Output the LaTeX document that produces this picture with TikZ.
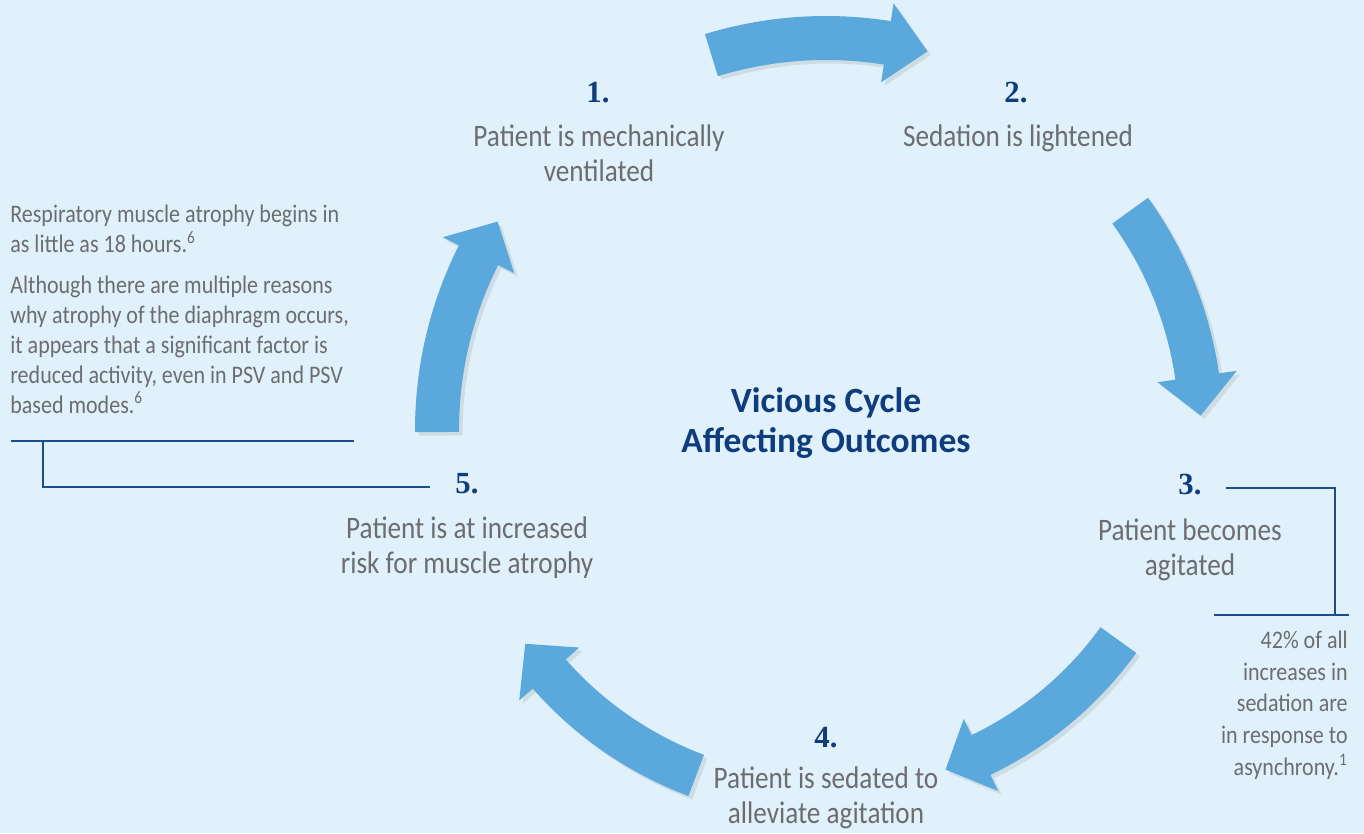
\documentclass[tikz,border=0pt]{standalone}
\usepackage{fontspec}
\setmainfont{Carlito}
\newfontfamily\narrowfont{Carlito}[FakeStretch=0.87]
\newfontfamily\numfont{Liberation Serif}
\usetikzlibrary{calc,shadows}

\definecolor{bgblue}{HTML}{E0F1FB}
\definecolor{arrowblue}{HTML}{5BA8DC}
\definecolor{navy}{HTML}{0F3C7C}
\definecolor{textgray}{HTML}{6B6D71}
\definecolor{rulenavy}{HTML}{1F4E86}

% bent block arrow round the centre: radius, tail angle, head angle, tip angle
\newcommand{\cyclearrow}[4]{%
  \fill[bentarrow] ({#2}:{#1+22}) arc[start angle={#2}, end angle={#3}, radius={#1+22}]
    -- ({#3}:{#1+40}) -- ({#4}:{#1}) -- ({#3}:{#1-40}) -- ({#3}:{#1-22})
    arc[start angle={#3}, end angle={#2}, radius={#1-22}] -- cycle;}

\begin{document}
\begin{tikzpicture}[x=0.02cm, y=0.02cm,
    bentarrow/.style={arrowblue, drop shadow={opacity=0.18, shadow xshift=2pt, shadow yshift=-2pt}},
    stepnum/.style={anchor=base, inner sep=0, text=navy, font=\numfont\bfseries\fontsize{17.5}{20}\selectfont},
    steptext/.style={anchor=base, inner sep=0, align=center, text=textgray, font=\narrowfont\fontsize{17.8}{19.8}\selectfont},
    notetext/.style={inner sep=0, text=textgray, font=\narrowfont\fontsize{14.4}{18}\selectfont},
    bracket/.style={rulenavy, line width=0.8pt}]

    % Background
    \fill[bgblue] (0,0) rectangle (1364,-833);

    % Arrows of the cycle
    \begin{scope}[shift={(826,-430)}]
        \cyclearrow{392}{107}{81}{75}
        \cyclearrow{375}{35.8}{8.2}{2.2}
        \cyclearrow{360}{-35.7}{-64.5}{-70.6}
        \cyclearrow{369}{-110.6}{-138.6}{-144.6}
        \cyclearrow{389}{180.3}{153.3}{147.6}
    \end{scope}

    % Title (base = last line)
    \node[anchor=base, inner sep=0, align=center, text=navy, font=\bfseries\fontsize{20.2}{22.7}\selectfont]
        (title) at (826,-452) {Vicious Cycle\\Affecting Outcomes};

    % Steps
    \node[stepnum] (n1) at (598,-102) {1.};
    \node[steptext] (s1) at (599,-181) {Patient is mechanically\\ventilated};
    \node[stepnum] (n2) at (1016,-102) {2.};
    \node[steptext] (s2) at (1018,-146) {Sedation is lightened};
    \node[stepnum] (n3) at (1190,-494) {3.};
    \node[steptext] (s3) at (1190,-575) {Patient becomes\\agitated};
    \node[stepnum] (n4) at (826,-747) {4.};
    \node[steptext] (s4) at (826,-823) {Patient is sedated to\\alleviate agitation};
    \node[stepnum] (n5) at (467,-493) {5.};
    \node[steptext] (s5) at (467,-573) {Patient is at increased\\risk for muscle atrophy};

    % Side notes
    \node[notetext, anchor=base west, align=left, font=\narrowfont\fontsize{14.4}{17}\selectfont]
        (noteA) at (10,-413)
        {Respiratory muscle atrophy begins in\\as little as 18 hours.\textsuperscript{6}\\[6.5pt]
         Although there are multiple reasons\\why atrophy of the diaphragm occurs,\\
         it appears that a significant factor is\\reduced activity, even in PSV and PSV\\
         based modes.\textsuperscript{6}};
    \node[notetext, anchor=base east, align=right] (noteB) at (1348,-775)
        {42\% of all\\increases in\\sedation are\\in response to\\asynchrony.\textsuperscript{1}};

    % Brackets from the notes to their steps
    \coordinate (ruleA) at (43,-441);
    \coordinate (ruleB) at (1335,-615);
    \draw[bracket] (11,-441) -- (354,-441);
    \draw[bracket] (ruleA) |- ($(n5.base west)+(-25,6)$);
    \draw[bracket] ($(n3.base east)+(24,6)$) -| (ruleB);
    \draw[bracket] (1214,-615) -- (1349,-615);

\end{tikzpicture}
\end{document}
